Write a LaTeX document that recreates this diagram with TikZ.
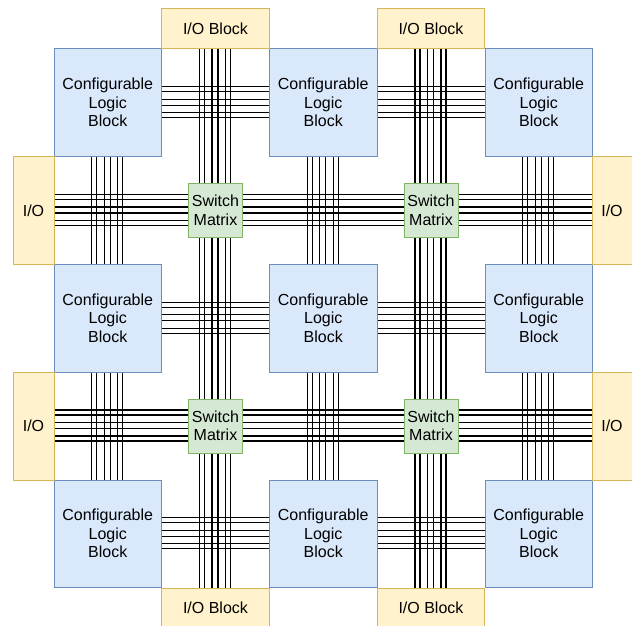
\documentclass[tikz,border=0pt]{standalone}
\usepackage{fontspec}
\setmainfont{Liberation Sans}
\pgfdeclarelayer{wires}
\pgfsetlayers{wires,main}
\definecolor{clbfill}{HTML}{DAE8FC}
\definecolor{clbdraw}{HTML}{6C8EBF}
\definecolor{iofill}{HTML}{FFF2CC}
\definecolor{iodraw}{HTML}{D6B656}
\definecolor{swfill}{HTML}{D5E8D4}
\definecolor{swdraw}{HTML}{82B366}
\tikzset{
  lbl/.style={font=\fontsize{16}{18.5}\selectfont, align=center, inner sep=0pt, line width=1pt},
  clb/.style={lbl, fill=clbfill, draw=clbdraw, minimum width=107.5pt, minimum height=107.5pt},
  iob/.style={lbl, fill=iofill, draw=iodraw},
  sw/.style={lbl, fill=swfill, draw=swdraw, minimum width=54pt, minimum height=54pt},
  wire/.style={draw=black, line width=1.2pt}
}
\newcommand{\offs}{-16,-11,-3.5,2.5,10,15}
\begin{document}
\begin{tikzpicture}[x=1pt,y=-1pt]
\useasboundingbox (0,0) rectangle (632,626);
% CLBs
\foreach \r/\cy in {1/102.75,2/318.25,3/533.75}{
  \foreach \c/\cx in {1/107.75,2/323.25,3/538.75}{
    \node[clb] (c\r\c) at (\cx,\cy) {Configurable\\Logic\\Block};
  }
}
% I/O blocks
\node[iob, minimum width=107.5pt, minimum height=40pt] (iot1) at (215.5,29) {I/O Block};
\node[iob, minimum width=107.5pt, minimum height=40pt] (iot2) at (431,29) {I/O Block};
\node[iob, minimum width=107.5pt, minimum height=40pt] (iob1) at (215.5,608) {I/O Block};
\node[iob, minimum width=107.5pt, minimum height=40pt] (iob2) at (431,608) {I/O Block};
\node[iob, minimum width=41pt, minimum height=108pt] (iol1) at (33.5,210.5) {I/O};
\node[iob, minimum width=41pt, minimum height=108pt] (iol2) at (33.5,426) {I/O};
\node[iob, minimum width=40pt, minimum height=108pt] (ior1) at (612,210.5) {I/O};
\node[iob, minimum width=40pt, minimum height=108pt] (ior2) at (612,426) {I/O};
% Switch matrices
\node[sw] (s11) at (215.5,210.5) {Switch\\Matrix};
\node[sw] (s12) at (431,210.5) {Switch\\Matrix};
\node[sw] (s21) at (215.5,426) {Switch\\Matrix};
\node[sw] (s22) at (431,426) {Switch\\Matrix};
% wires
\begin{pgfonlayer}{wires}
\foreach \d in \offs {
  % long vertical buses
  \draw[wire] ([xshift=\d pt]iot1.south) -- ([xshift=\d pt]iob1.north);
  \draw[wire] ([xshift=\d pt]iot2.south) -- ([xshift=\d pt]iob2.north);
  % long horizontal buses
  \draw[wire] ([yshift=-\d pt]iol1.east) -- ([yshift=-\d pt]ior1.west);
  \draw[wire] ([yshift=-\d pt]iol2.east) -- ([yshift=-\d pt]ior2.west);
  % short vertical buses between CLBs
  \foreach \c in {1,2,3}{
    \draw[wire] ([xshift=\d pt]c1\c.south) -- ([xshift=\d pt]c2\c.north);
    \draw[wire] ([xshift=\d pt]c2\c.south) -- ([xshift=\d pt]c3\c.north);
  }
  % short horizontal buses between CLBs
  \foreach \r in {1,2,3}{
    \draw[wire] ([yshift=-\d pt]c\r1.east) -- ([yshift=-\d pt]c\r2.west);
    \draw[wire] ([yshift=-\d pt]c\r2.east) -- ([yshift=-\d pt]c\r3.west);
  }
}
\end{pgfonlayer}
\end{tikzpicture}
\end{document}
